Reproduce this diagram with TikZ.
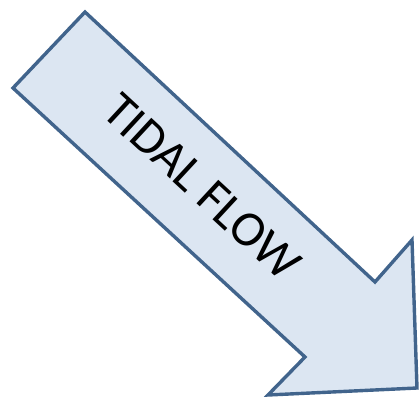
\documentclass[tikz,border=0pt]{standalone}
\usepackage{fontspec}
\setmainfont{Carlito}
\definecolor{arrowfill}{HTML}{DCE6F2}
\definecolor{arrowline}{HTML}{41648C}
\begin{document}
\begin{tikzpicture}[x=1pt,y=-1pt,
  bigarrow/.style={draw=arrowline,fill=arrowfill,line width=3.4pt,line join=miter},
  arrowlabel/.style={font=\fontsize{50}{54}\selectfont,text=black,inner sep=0pt}]
\useasboundingbox (0,0) rectangle (420,398);
\coordinate (a) at (85,12);
\coordinate (b) at (375,282);
\coordinate (c) at (412,240);
\coordinate (d) at (417,388);
\coordinate (e) at (268,395);
\coordinate (f) at (305,357);
\coordinate (g) at (13,88);
\draw[bigarrow] (a) -- (b) -- (c) -- (d) -- (e) -- (f) -- (g) -- cycle;
\node[arrowlabel,rotate=-42.8] (lbl) at (202,187) {TIDAL FLOW};
\end{tikzpicture}
\end{document}
